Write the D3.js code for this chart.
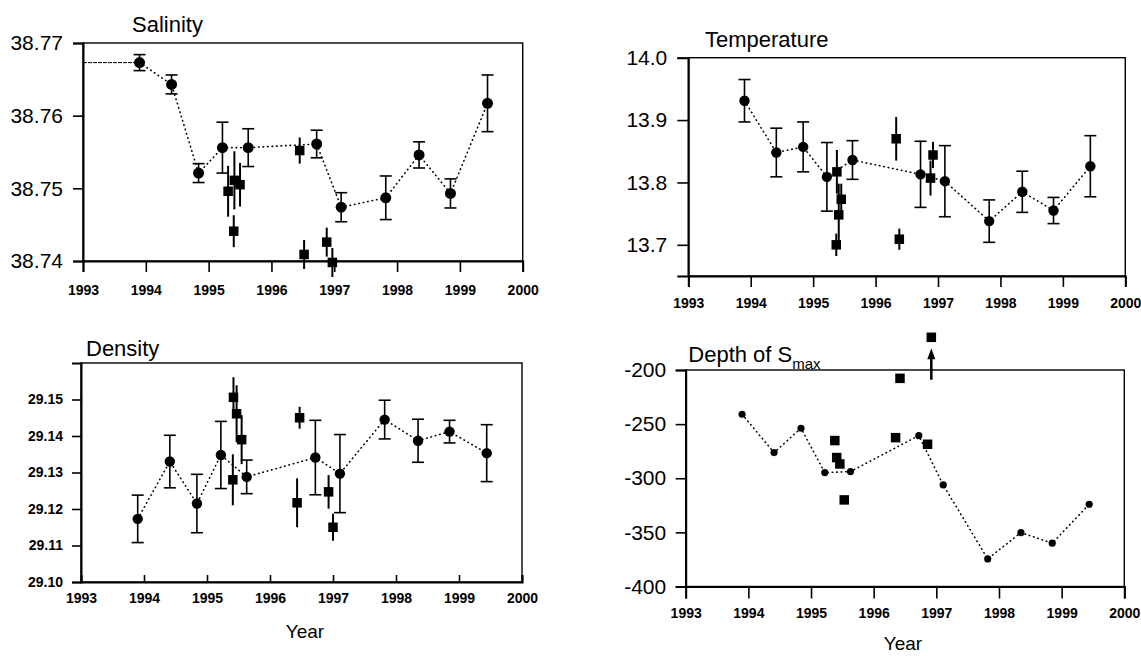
<!DOCTYPE html>
<html>
<head>
<meta charset="utf-8">
<script src="https://cdn.jsdelivr.net/npm/d3@7"></script>
<style>
  body { margin: 0; background: #fff; }
  text { font-family: "Liberation Sans", Arial, sans-serif; fill: #000; }
</style>
</head>
<body>
<div id="chart"></div>
<script>

// cruise dates (decimal years), shared by the four panels
var years = [1993.9, 1994.41, 1994.84, 1995.22, 1995.63, 1996.72, 1997.11, 1997.82, 1998.35, 1998.85, 1999.44];
var xTicks = [1993, 1994, 1995, 1996, 1997, 1998, 1999, 2000];

// salinity
var salMean = [38.7673, 38.7643, 38.7521, 38.7556, 38.7556, 38.7561, 38.7474, 38.7487, 38.7546, 38.7493, 38.7617];
var salErr = [0.0011, 0.0013, 0.0013, 0.0035, 0.0026, 0.0019, 0.0020, 0.0030, 0.0018, 0.0020, 0.0039];
var salSqYears = [1995.31, 1995.41, 1995.50, 1995.40, 1996.45, 1996.52, 1996.88, 1996.97];
var salSq = [38.7496, 38.7511, 38.7505, 38.7441, 38.7552, 38.7409, 38.7426, 38.7398];
var salSqErr = [0.0035, 0.0040, 0.0030, 0.0022, 0.0018, 0.0020, 0.0020, 0.0020];
var salTicks = [38.74, 38.75, 38.76, 38.77];

// temperature
var tempMean = [13.931, 13.848, 13.857, 13.809, 13.836, 13.813, 13.802, 13.738, 13.785, 13.755, 13.826];
var tempErr = [0.034, 0.039, 0.040, 0.055, 0.031, 0.053, 0.057, 0.034, 0.033, 0.021, 0.049];
var tempSqYears = [1995.37, 1995.38, 1995.41, 1995.45, 1996.33, 1996.38, 1996.88, 1996.92];
var tempSq = [13.700, 13.817, 13.748, 13.773, 13.870, 13.709, 13.807, 13.844];
var tempSqErr = [0.018, 0.035, 0.050, 0.025, 0.035, 0.017, 0.028, 0.021];
var tempTicks = [13.7, 13.8, 13.9, 14.0];

// density
var denMean = [29.1173, 29.1330, 29.1215, 29.1348, 29.1288, 29.1341, 29.1297, 29.1445, 29.1387, 29.1412, 29.1353];
var denErr = [0.0065, 0.0072, 0.0080, 0.0092, 0.0046, 0.0102, 0.0107, 0.0053, 0.0059, 0.0031, 0.0078];
var denSqYears = [1995.42, 1995.47, 1995.55, 1995.41, 1996.47, 1996.43, 1996.93, 1997.00];
var denSq = [29.1506, 29.1461, 29.1390, 29.1280, 29.1450, 29.1217, 29.1247, 29.1150];
var denSqErr = [0.0055, 0.0078, 0.0067, 0.0070, 0.0030, 0.0067, 0.0046, 0.0037];
var denTicks = [29.10, 29.11, 29.12, 29.13, 29.14, 29.15];

// depth of salinity maximum (m)
var depthMean = [-240.9, -276.3, -253.8, -294.8, -293.8, -260.6, -306.2, -374.5, -350.2, -360.0, -324.0];
var depthSqYears = [1995.38, 1995.41, 1995.46, 1995.53, 1996.35, 1996.42, 1996.86, 1996.92];
var depthSq = [-265.2, -280.9, -286.8, -320.0, -262.5, -207.7, -268.6, -169.8];
var depthTicks = [-400, -350, -300, -250, -200];
var arrowFrom = -209, arrowTo = -180;

var svg = d3.select("#chart").append("svg")
    .attr("width", 1141)
    .attr("height", 656);

var panels = [
  { title: "Salinity", tx: 132, ty: 32,
    left: 83, right: 522.7, top: 43, bottom: 261,
    domain: [38.74, 38.77], ticks: salTicks, fmt: d3.format(".2f"),
    yFont: 21, yWeight: "normal", yTick: 10, yPad: 10,
    xTick: 11, xPad: 13,
    mean: salMean, err: salErr, r: 5.5,
    sqYears: salSqYears, sq: salSq, sqErr: salSqErr, lead: true },
  { title: "Temperature", tx: 705, ty: 47,
    left: 688.3, right: 1125.3, top: 57.7, bottom: 276,
    domain: [13.65, 14.0], ticks: tempTicks, fmt: d3.format(".1f"),
    yFont: 21, yWeight: "normal", yTick: 11, yPad: 10,
    xTick: 11, xPad: 11,
    mean: tempMean, err: tempErr, r: 5.2,
    sqYears: tempSqYears, sq: tempSq, sqErr: tempSqErr },
  { title: "Density", tx: 86, ty: 356,
    left: 81, right: 522, top: 363, bottom: 582,
    domain: [29.10, 29.16], ticks: denTicks, fmt: d3.format(".2f"),
    yFont: 14, yWeight: "bold", yTick: 9, yPad: 9,
    xTick: -7, xPad: 11,
    mean: denMean, err: denErr, r: 5.2,
    sqYears: denSqYears, sq: denSq, sqErr: denSqErr, year: [305, 638] },
  { title: "Depth of S", sub: "max", tx: 688.3, ty: 362,
    left: 685.7, right: 1124.3, top: 370, bottom: 586.5,
    domain: [-400, -200], ticks: depthTicks, fmt: function (d) { return String(d); },
    yFont: 21, yWeight: "normal", yTick: 10, yPad: 9.5,
    xTick: 12, xPad: 10,
    mean: depthMean, err: null, r: 3.6,
    sqYears: depthSqYears, sq: depthSq, sqErr: null, arrow: true, year: [903, 650] }
];

panels.forEach(function (p) { drawPanel(p); });

function drawPanel(p) {
  var g = svg.append("g");

  var x = d3.scaleLinear().domain([1993, 2000]).range([p.left, p.right]);
  var y = d3.scaleLinear().domain(p.domain).range([p.bottom, p.top]);

  // frame
  g.append("rect")
    .attr("x", p.left).attr("y", p.top)
    .attr("width", p.right - p.left).attr("height", p.bottom - p.top)
    .attr("fill", "none").attr("stroke", "#000").attr("stroke-width", 1.4);

  var xAxis = d3.axisBottom(x)
    .tickValues(xTicks)
    .tickFormat(d3.format("d"))
    .tickSize(p.xTick)
    .tickPadding(p.xPad);

  var gx = g.append("g")
    .attr("transform", "translate(0," + p.bottom + ")")
    .call(xAxis);
  gx.select(".domain").attr("stroke-width", 2);
  gx.selectAll(".tick line").attr("stroke-width", 1.6);
  gx.selectAll(".tick text")
    .attr("font-size", 14).attr("font-weight", "bold")
    .attr("font-family", "'Liberation Sans', Arial, sans-serif");

  var yAxis = d3.axisLeft(y)
    .tickValues(p.ticks)
    .tickFormat(p.fmt)
    .tickSize(p.yTick)
    .tickPadding(p.yPad);

  var gy = g.append("g")
    .attr("transform", "translate(" + p.left + ",0)")
    .call(yAxis);
  gy.select(".domain").attr("stroke-width", 2);
  gy.selectAll(".tick line").attr("stroke-width", 1.6);
  gy.selectAll(".tick text")
    .attr("font-size", p.yFont).attr("font-weight", p.yWeight)
    .attr("font-family", "'Liberation Sans', Arial, sans-serif");

  // title
  var t = g.append("text")
    .attr("x", p.tx).attr("y", p.ty)
    .attr("font-size", 22)
    .text(p.title);
  if (p.sub) {
    t.append("tspan").attr("font-size", 15).attr("dy", 7).text(p.sub);
  }

  var pts = years.map(function (yr, i) { return { x: yr, v: p.mean[i], e: p.err ? p.err[i] : 0 }; });
  var sqs = p.sqYears.map(function (yr, i) { return { x: yr, v: p.sq[i], e: p.sqErr ? p.sqErr[i] : 0 }; });

  // thin lead line from the axis to the first cruise (salinity panel)
  if (p.lead) {
    g.append("line")
      .attr("x1", x(1993)).attr("x2", x(pts[0].x))
      .attr("y1", y(pts[0].v)).attr("y2", y(pts[0].v))
      .attr("stroke", "#000").attr("stroke-width", 1)
      .attr("stroke-dasharray", "4,1");
  }

  // dotted line through the cruise means
  var line = d3.line()
    .x(function (d) { return x(d.x); })
    .y(function (d) { return y(d.v); });

  g.append("path")
    .datum(pts)
    .attr("d", line)
    .attr("fill", "none")
    .attr("stroke", "#000")
    .attr("stroke-width", 1.6)
    .attr("stroke-linecap", "round")
    .attr("stroke-dasharray", "0.5,4");

  // error bars with caps on circles
  if (p.err) {
    var eb = g.selectAll(".eb")
      .data(pts).enter()
      .append("g").attr("class", "eb");
    eb.append("line")
      .attr("x1", function (d) { return x(d.x); })
      .attr("x2", function (d) { return x(d.x); })
      .attr("y1", function (d) { return y(d.v - d.e); })
      .attr("y2", function (d) { return y(d.v + d.e); })
      .attr("stroke", "#000").attr("stroke-width", 1.6);
    [-1, 1].forEach(function (s) {
      eb.append("line")
        .attr("x1", function (d) { return x(d.x) - 6; })
        .attr("x2", function (d) { return x(d.x) + 6; })
        .attr("y1", function (d) { return y(d.v + s * d.e); })
        .attr("y2", function (d) { return y(d.v + s * d.e); })
        .attr("stroke", "#000").attr("stroke-width", 1.6);
    });
  }

  // error bars without caps on squares
  if (p.sqErr) {
    g.selectAll(".sqeb")
      .data(sqs).enter()
      .append("line").attr("class", "sqeb")
      .attr("x1", function (d) { return x(d.x); })
      .attr("x2", function (d) { return x(d.x); })
      .attr("y1", function (d) { return y(d.v - d.e); })
      .attr("y2", function (d) { return y(d.v + d.e); })
      .attr("stroke", "#000").attr("stroke-width", 2);
  }

  g.selectAll(".circ")
    .data(pts).enter()
    .append("circle").attr("class", "circ")
    .attr("cx", function (d) { return x(d.x); })
    .attr("cy", function (d) { return y(d.v); })
    .attr("r", p.r)
    .attr("fill", "#000");

  var s = 9.5;
  g.selectAll(".sq")
    .data(sqs).enter()
    .append("rect").attr("class", "sq")
    .attr("x", function (d) { return x(d.x) - s / 2; })
    .attr("y", function (d) { return y(d.v) - s / 2; })
    .attr("width", s).attr("height", s)
    .attr("fill", "#000");

  // arrow: the last square lies off the scale
  if (p.arrow) {
    var ax = x(p.sqYears[p.sqYears.length - 1]);
    g.append("line")
      .attr("x1", ax).attr("x2", ax)
      .attr("y1", y(arrowFrom)).attr("y2", y(arrowTo) + 8)
      .attr("stroke", "#000").attr("stroke-width", 2.5);
    g.append("path")
      .attr("d", "M" + ax + "," + y(arrowTo) + "L" + (ax - 4) + "," + (y(arrowTo) + 11) + "L" + (ax + 4) + "," + (y(arrowTo) + 11) + "Z")
      .attr("fill", "#000");
  }

  if (p.year) {
    g.append("text")
      .attr("x", p.year[0]).attr("y", p.year[1])
      .attr("text-anchor", "middle")
      .attr("font-size", 19)
      .text("Year");
  }
}

</script>
</body>
</html>
